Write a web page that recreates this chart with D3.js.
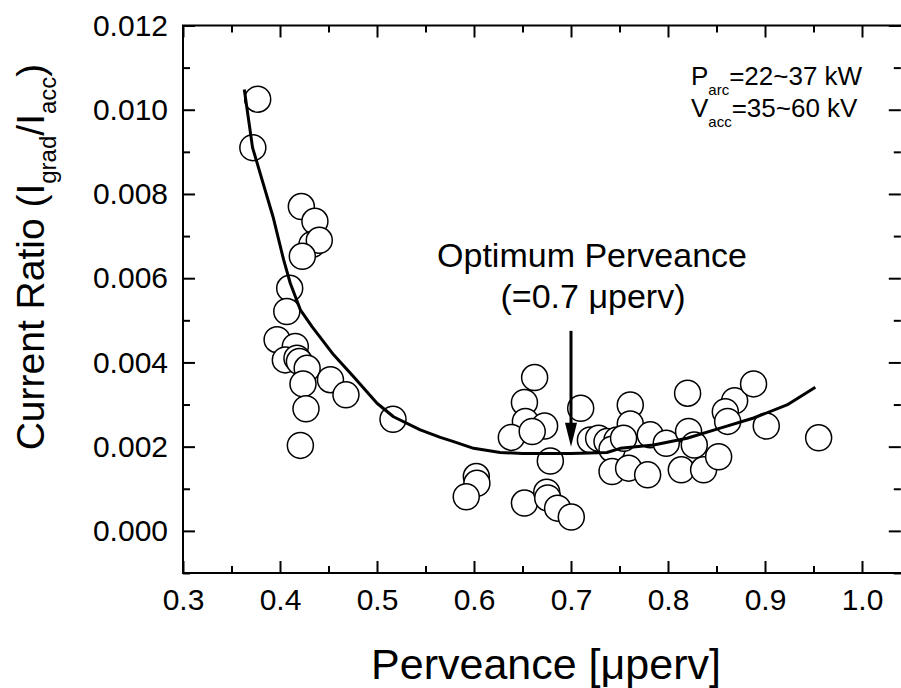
<!DOCTYPE html>
<html>
<head>
<meta charset="utf-8">
<script src="https://cdn.jsdelivr.net/npm/d3@7"></script>
<style>
    body { margin: 0; background: #fff; }
    svg { display: block; font-family: "Liberation Sans", Arial, sans-serif; }
    .axis line { stroke: #000; stroke-width: 2; }
    .axis path { display: none; }
    .axis text { font-size: 30px; fill: #000; font-family: "Liberation Sans", Arial, sans-serif; }
</style>
</head>
<body>
<svg width="901" height="688"></svg>
<script>
// measured points: perveance [uperv] and current ratio Igrad/Iacc
var perveance = [0.377, 0.372, 0.422, 0.436, 0.433, 0.4405, 0.423, 0.410, 0.407, 0.397,
    0.4158, 0.4055, 0.4175, 0.420, 0.428, 0.4237, 0.452, 0.468, 0.4268, 0.421,
    0.5165, 0.6625, 0.652, 0.710, 0.653, 0.6728, 0.6385, 0.660, 0.6787, 0.6024,
    0.603, 0.592, 0.652, 0.675, 0.676, 0.6862, 0.7003, 0.720, 0.7285, 0.7371,
    0.7474, 0.7423, 0.7423, 0.7594, 0.7611, 0.7611, 0.7542, 0.7817, 0.7982, 0.779,
    0.8212, 0.8271, 0.8137, 0.8367, 0.8522, 0.8202, 0.8687, 0.8591, 0.8615, 0.8882,
    0.9013, 0.9553];
var ratio = [0.01025, 0.0091, 0.0077, 0.00735, 0.0068, 0.0069, 0.00652, 0.00576, 0.00521, 0.00454,
    0.00438, 0.00406, 0.0041, 0.00402, 0.00386, 0.00349, 0.00359, 0.00323, 0.0029, 0.00203,
    0.00265, 0.00364, 0.00305, 0.00291, 0.0026, 0.00249, 0.00222, 0.00236, 0.00166, 0.00129,
    0.00113, 0.00081, 0.00066, 0.00092, 0.00078, 0.00054, 0.00033, 0.00216, 0.0022, 0.00212,
    0.00216, 0.00194, 0.00141, 0.00149, 0.00299, 0.00254, 0.0022, 0.00228, 0.00208, 0.00133,
    0.00236, 0.00204, 0.00145, 0.00145, 0.00176, 0.00327, 0.00309, 0.00283, 0.0026, 0.00349,
    0.00249, 0.00221];

// fitted trend line
var fitX = [0.3632, 0.3717, 0.3928, 0.4037, 0.4106, 0.421, 0.433, 0.4553, 0.4759, 0.500,
    0.517, 0.5446, 0.5653, 0.579, 0.5996, 0.627, 0.650, 0.700, 0.737, 0.7508,
    0.7852, 0.8196, 0.8539, 0.8883, 0.9227, 0.9519];
var fitY = [0.01048, 0.0091, 0.00746, 0.00644, 0.00588, 0.00525, 0.00485, 0.00418, 0.00366, 0.00303,
    0.00271, 0.0024, 0.00222, 0.00212, 0.00196, 0.00186, 0.00184, 0.00184, 0.00186, 0.00196,
    0.00204, 0.0022, 0.00244, 0.00268, 0.00299, 0.00341];

var xTicks = [0.3, 0.4, 0.5, 0.6, 0.7, 0.8, 0.9, 1.0];
var xMinorTicks = [0.35, 0.45, 0.55, 0.65, 0.75, 0.85, 0.95];
var yTicks = [0.000, 0.002, 0.004, 0.006, 0.008, 0.010, 0.012];
var yMinorTicks = [-0.001, 0.001, 0.003, 0.005, 0.007, 0.009, 0.011];

var optimum = 0.7;

var svg = d3.select("svg");

var plotLeft = 183, plotRight = 900.8, plotTop = 25.5, plotBottom = 573;

var x = d3.scaleLinear().domain([0.3, 1.04]).range([plotLeft, plotRight]);
var y = d3.scaleLinear().domain([-0.001, 0.012]).range([plotBottom, plotTop]);

// AXES (ticks point inward on all four sides)
function addAxis(axis, tx, ty) {
    svg.append("g")
        .attr("class", "axis")
        .attr("transform", "translate(" + tx + "," + ty + ")")
        .call(axis);
}

addAxis(d3.axisBottom(x).tickValues(xTicks).tickFormat(d3.format(".1f")).tickSize(-12).tickSizeOuter(0).tickPadding(16), 0, plotBottom);
addAxis(d3.axisBottom(x).tickValues(xMinorTicks).tickFormat("").tickSize(-7).tickSizeOuter(0), 0, plotBottom);
addAxis(d3.axisTop(x).tickValues(xTicks).tickFormat("").tickSize(-12).tickSizeOuter(0), 0, plotTop);
addAxis(d3.axisTop(x).tickValues(xMinorTicks).tickFormat("").tickSize(-7).tickSizeOuter(0), 0, plotTop);
addAxis(d3.axisLeft(y).tickValues(yTicks).tickFormat(d3.format(".3f")).tickSize(-12).tickSizeOuter(0).tickPadding(15), plotLeft, 0);
addAxis(d3.axisLeft(y).tickValues(yMinorTicks).tickFormat("").tickSize(-7).tickSizeOuter(0), plotLeft, 0);
addAxis(d3.axisRight(y).tickValues(yTicks).tickFormat("").tickSize(-12).tickSizeOuter(0), plotRight, 0);
addAxis(d3.axisRight(y).tickValues(yMinorTicks).tickFormat("").tickSize(-7).tickSizeOuter(0), plotRight, 0);

svg.append("rect")
    .attr("x", plotLeft)
    .attr("y", plotTop)
    .attr("width", plotRight - plotLeft + 2)
    .attr("height", plotBottom - plotTop)
    .attr("fill", "none")
    .attr("stroke", "#000")
    .attr("stroke-width", 2);

// POINTS
var points = perveance.map(function(p, i) { return {x: p, y: ratio[i]}; });
svg.selectAll(".pt")
    .data(points)
    .enter()
    .append("circle")
    .attr("class", "pt")
    .attr("cx", function(d) { return x(d.x); })
    .attr("cy", function(d) { return y(d.y); })
    .attr("r", 13)
    .attr("fill", "#fff")
    .attr("stroke", "#000")
    .attr("stroke-width", 1.5);

// FIT LINE
var line = d3.line()
    .x(function(d, i) { return x(fitX[i]); })
    .y(function(d, i) { return y(fitY[i]); });
svg.append("path")
    .attr("d", line(fitX))
    .attr("fill", "none")
    .attr("stroke", "#000")
    .attr("stroke-width", 3)
    .attr("stroke-linejoin", "round");

// ARROW
var ax = x(optimum), ay1 = y(0.00475), ay2 = y(0.00200);
svg.append("line")
    .attr("x1", ax).attr("x2", ax)
    .attr("y1", ay1).attr("y2", ay2 - 18)
    .attr("stroke", "#000")
    .attr("stroke-width", 3);
svg.append("path")
    .attr("d", "M" + (ax - 6) + "," + (ay2 - 24) + "L" + (ax + 6) + "," + (ay2 - 24) + "L" + ax + "," + ay2 + "Z")
    .attr("fill", "#000");

// ANNOTATIONS
svg.append("text")
    .attr("x", 592).attr("y", 267)
    .attr("text-anchor", "middle")
    .style("font-size", "34px")
    .text("Optimum Perveance");
svg.append("text")
    .attr("x", 593).attr("y", 308)
    .attr("text-anchor", "middle")
    .style("font-size", "34px")
    .text("(=0.7 \u03bcperv)");

function subText(tx, ty, main, sub, rest, size, subSize, shift) {
    var t = svg.append("text")
        .attr("x", tx).attr("y", ty)
        .style("font-size", size + "px");
    t.append("tspan").text(main);
    t.append("tspan").attr("dy", shift).style("font-size", subSize + "px").text(sub);
    t.append("tspan").attr("dy", -shift).text(rest);
    return t;
}

subText(691, 85, "P", "arc", "=22~37 kW", 26, 15, 10);
subText(691, 117, "V", "acc", "=35~60 kV", 26, 15, 10);

// AXIS TITLES
svg.append("text")
    .attr("x", 546).attr("y", 679)
    .attr("text-anchor", "middle")
    .style("font-size", "43px")
    .text("Perveance [\u03bcperv]");

var yTitle = svg.append("text")
    .attr("transform", "translate(44,257) rotate(-90)")
    .attr("text-anchor", "middle")
    .style("font-size", "39px");
yTitle.append("tspan").text("Current Ratio (I");
yTitle.append("tspan").attr("dy", 12).style("font-size", "24px").text("grad");
yTitle.append("tspan").attr("dy", -12).text("/I");
yTitle.append("tspan").attr("dy", 12).style("font-size", "24px").text("acc");
yTitle.append("tspan").attr("dy", -12).text(")");
</script>
</body>
</html>
